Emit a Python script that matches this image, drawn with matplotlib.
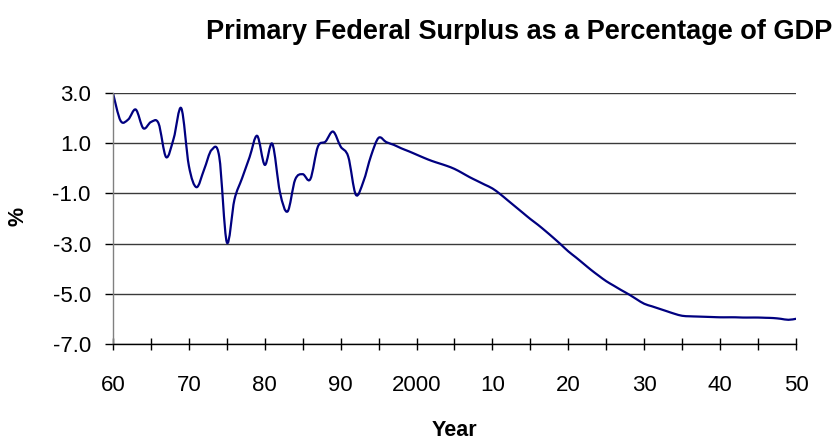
import numpy as np
import matplotlib
matplotlib.use('Agg')
import matplotlib.pyplot as plt
from matplotlib.path import Path
from matplotlib.patches import PathPatch

plt.rcParams['font.family'] = ['Liberation Sans', 'DejaVu Sans']

# primary surplus, % of GDP, one value per year 1960-2050
years = np.arange(1960, 2051)
surplus = [
    3.00, 1.90, 1.95, 2.35, 1.60, 1.85, 1.80, 0.45, 1.20, 2.40,   # 1960s
    0.10, -0.75, -0.05, 0.74, 0.47, -2.95, -1.25, -0.40, 0.45, 1.30,   # 1970s
    0.14, 0.98, -0.95, -1.72, -0.45, -0.23, -0.43, 0.87, 1.07, 1.47,   # 1980s
    0.87, 0.47, -1.05, -0.52, 0.50, 1.22, 1.05, 0.94, 0.80, 0.68,   # 1990s
    0.55, 0.42, 0.30, 0.20, 0.10, -0.02, -0.18, -0.35, -0.50, -0.65,   # 2000s
    -0.80, -1.02, -1.27, -1.52, -1.77, -2.02, -2.25, -2.50, -2.76, -3.03,   # 2010s
    -3.31, -3.55, -3.80, -4.05, -4.28, -4.50, -4.68, -4.86, -5.03, -5.22,   # 2020s
    -5.40, -5.50, -5.60, -5.70, -5.80, -5.88, -5.90, -5.91, -5.92, -5.93,   # 2030s
    -5.94, -5.94, -5.94, -5.95, -5.95, -5.95, -5.96, -5.97, -6.00, -6.04,   # 2040s
    -6.00,                                                           # 2050
]

year_ticks = np.arange(1960, 2051, 10)
tick_labels = ['60', '70', '80', '90', '2000', '10', '20', '30', '40', '50']
y_ticks = [3.0, 1.0, -1.0, -3.0, -5.0, -7.0]


def smooth_path(x, y):
    # catmull-rom style bezier through every point (like a spreadsheet "smoothed line")
    pts = np.column_stack([x, y]).astype(float)
    padded = np.vstack([pts[0], pts, pts[-1]])
    verts = [pts[0]]
    codes = [Path.MOVETO]
    for i in range(1, len(padded) - 2):
        p0, p1, p2, p3 = padded[i - 1], padded[i], padded[i + 1], padded[i + 2]
        c1 = p1 + (p2 - p0) / 6.0
        c2 = p2 - (p3 - p1) / 6.0
        verts += [c1, c2, p2]
        codes += [Path.CURVE4] * 3
    return Path(verts, codes)


fig = plt.figure(figsize=(8.37, 4.46), dpi=100)
ax = fig.add_axes([0.135, 0.229, 0.816, 0.562])

patch = PathPatch(smooth_path(years, surplus), facecolor='none',
                  edgecolor='#000080', linewidth=1.6, capstyle='round', joinstyle='round')
ax.add_patch(patch)

ax.set_xlim(1960, 2050)
ax.set_ylim(-7, 3)
ax.set_yticks(y_ticks)
ax.set_yticklabels(['%.1f' % v for v in y_ticks])
ax.set_xticks(year_ticks)
ax.set_xticklabels(tick_labels)
ax.set_xticks(np.arange(1965, 2050, 10), minor=True)

for v in y_ticks:
    ax.axhline(v, color='#3a3a3a', linewidth=1.0, zorder=0)

ax.spines['top'].set_visible(False)
ax.spines['right'].set_visible(False)
ax.spines['left'].set_color('#808080')
ax.spines['left'].set_linewidth(1.0)
ax.spines['bottom'].set_color('black')
ax.spines['bottom'].set_linewidth(1.0)

ax.tick_params(axis='y', direction='out', length=6, width=1, color='black',
               labelsize=16, pad=10)
ax.tick_params(axis='x', which='both', direction='inout', length=9, width=1,
               color='black', labelsize=16, pad=18)

ax.set_xlabel('Year', fontsize=15.5, fontweight='bold', va='center')
ax.xaxis.set_label_coords(0.5, -0.345)
ax.set_ylabel('%', fontsize=15.5, fontweight='bold', va='center', ha='center')
ax.yaxis.set_label_coords(-0.139, 0.51)

fig.text(0.620, 0.928, 'Primary Federal Surplus as a Percentage of GDP',
         ha='center', va='center', fontsize=19.5, fontweight='bold')

fig.savefig('out.png', dpi=100)
